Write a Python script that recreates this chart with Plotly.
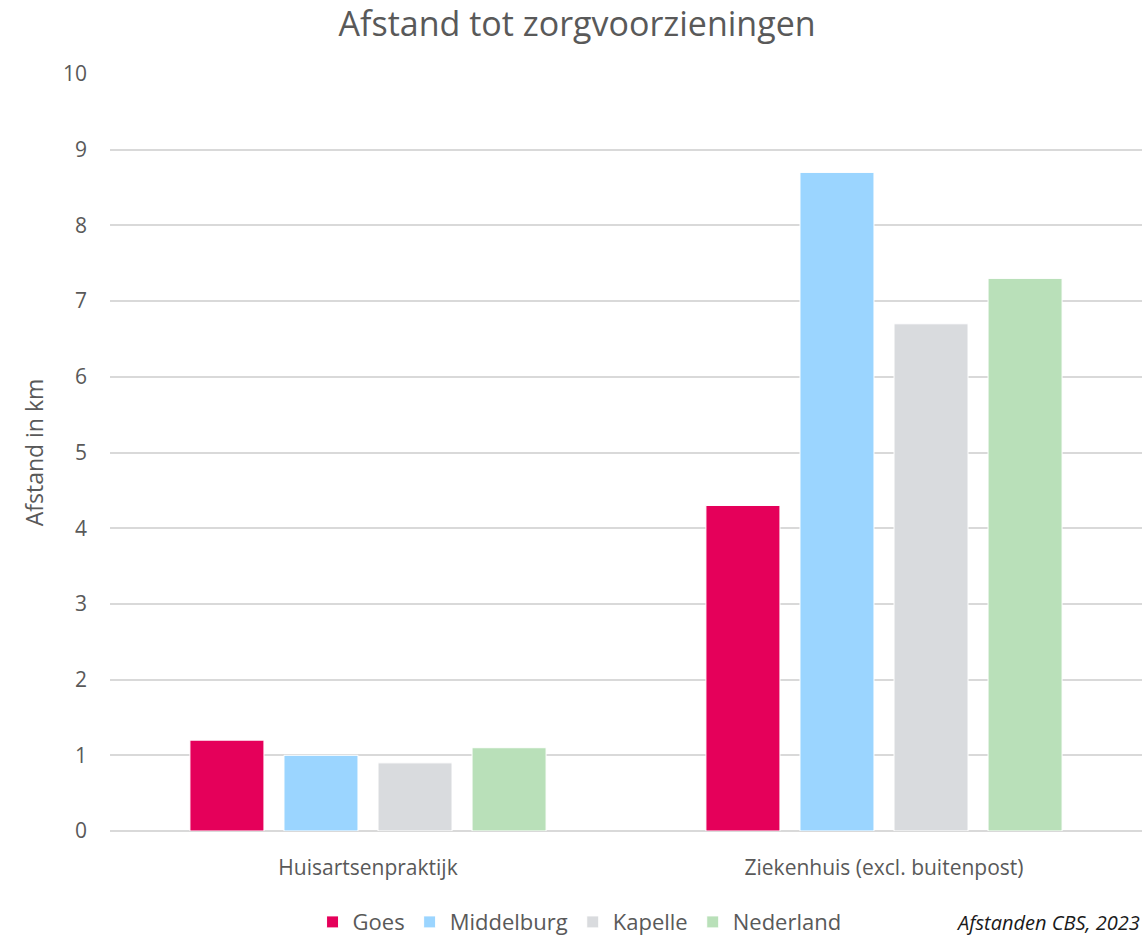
import plotly.graph_objects as go

categories = ["Huisartsenpraktijk", "Ziekenhuis (excl. buitenpost)"]
series_names = ["Goes", "Middelburg", "Kapelle", "Nederland"]
goes = [1.2, 4.3]
middelburg = [1.0, 8.7]
kapelle = [0.9, 6.7]
nederland = [1.1, 7.3]
colors = ["#E5005A", "#9BD5FF", "#D9DBDE", "#B9E0B9"]

fig = go.Figure()
for name, vals, col in zip(series_names, [goes, middelburg, kapelle, nederland], colors):
    fig.add_trace(go.Bar(
        x=categories, y=vals, name=name,
        marker=dict(color=col, line=dict(color="white", width=1)),
    ))

font_family = "Open Sans, Noto Sans, sans-serif"
fig.update_layout(
    width=1145, height=939,
    barmode="group", bargap=0.271, bargroupgap=0.213,
    plot_bgcolor="white", paper_bgcolor="white",
    margin=dict(l=110, r=3, t=74, b=108, autoexpand=False),
    font=dict(family=font_family, color="#595959", size=18),
    title=dict(text="Afstand tot zorgvoorzieningen", x=0.504, xanchor="center",
               y=0.974, yanchor="middle",
               font=dict(size=34, color="#595959", family=font_family)),
    yaxis=dict(range=[0, 10], dtick=1, showgrid=True, gridcolor="#D9D9D9", gridwidth=1.5,
               zeroline=True, zerolinecolor="#D9D9D9", zerolinewidth=1.5,
               ticks="", ticklabelstandoff=22, automargin=False,
               tickfont=dict(size=21, color="#595959"),
               title=dict(text="Afstand in km", font=dict(size=23, color="#595959"), standoff=12)),
    xaxis=dict(showgrid=False, ticks="", tickfont=dict(size=21, color="#595959"),
               ticklabelstandoff=22, automargin=False),
    legend=dict(orientation="h", x=0.455, xanchor="center", y=0.018, yref="container",
                yanchor="middle",
                font=dict(size=22, color="#595959"), itemwidth=30, traceorder="normal"),
    annotations=[dict(text="<i>Afstanden CBS, 2023</i>", x=1.0, xref="paper", xanchor="right",
                      y=-0.1215, yref="paper", yanchor="middle", showarrow=False,
                      font=dict(size=20, color="#1a1a1a", family=font_family))],
)

fig.write_html("out.html", config={"displayModeBar": False},
               post_script="document.body.style.margin='0';")
